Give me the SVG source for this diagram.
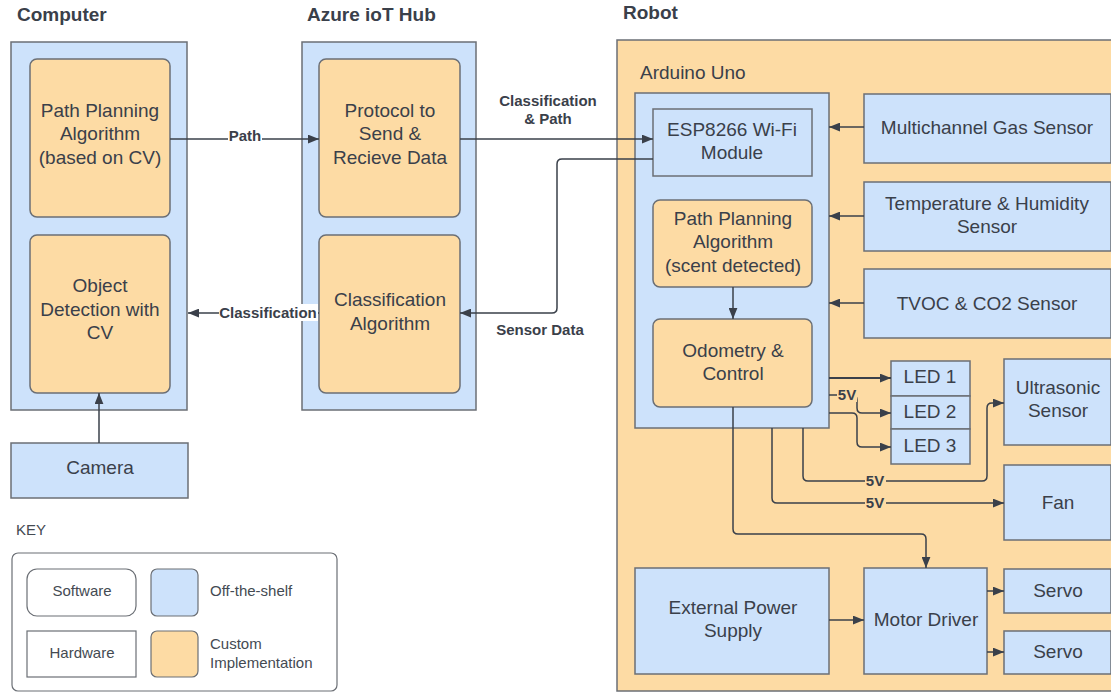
<svg xmlns="http://www.w3.org/2000/svg" width="1111" height="692" viewBox="0 0 1111 692">
<style>
.b{fill:#cde2fb;stroke:#6b6f75;stroke-width:1.5}
.o{fill:#fddba4;stroke:#6b6f75;stroke-width:1.5}
.w{fill:#ffffff;stroke:#6b6f75;stroke-width:1.2}
.t{font-family:"Liberation Sans",Arial,sans-serif;font-size:19px;fill:#3a404a;text-anchor:middle}
.h{font-family:"Liberation Sans",Arial,sans-serif;font-size:19px;font-weight:bold;fill:#3a404a}
.l{font-family:"Liberation Sans",Arial,sans-serif;font-size:15px;font-weight:bold;fill:#3a404a;text-anchor:middle}
.k{font-family:"Liberation Sans",Arial,sans-serif;font-size:15px;fill:#444a52}
.c{fill:none;stroke:#3a404a;stroke-width:1.5;marker-end:url(#ah)}
</style>
<defs>
<marker id="ah" viewBox="0 0 10 8" refX="10" refY="4" markerWidth="11" markerHeight="9" orient="auto" markerUnits="userSpaceOnUse">
<path d="M0,0 L10,4 L0,8 z" fill="#3a404a"/>
</marker>
</defs>
<rect width="1111" height="692" fill="#ffffff"/>
<text class="h" x="17" y="21">Computer</text>
<text class="h" x="307" y="21">Azure ioT Hub</text>
<text class="h" x="623" y="19">Robot</text>

<g id="computer">
<rect class="b" x="11" y="42" width="176" height="368"/>
</g>
<g id="path-planning-cv">
<rect class="o" x="30" y="59" width="140" height="158" rx="7"/>
<text class="t" x="100" y="117">Path Planning</text>
<text class="t" x="100" y="140">Algorithm</text>
<text class="t" x="100" y="164">(based on CV)</text>
</g>
<g id="object-detection">
<rect class="o" x="30" y="235" width="140" height="158" rx="7"/>
<text class="t" x="100" y="292">Object</text>
<text class="t" x="100" y="316">Detection with</text>
<text class="t" x="100" y="339">CV</text>
</g>
<g id="camera">
<rect class="b" x="11" y="443" width="177" height="55"/>
<text class="t" x="100" y="474">Camera</text>
</g>

<g id="azure">
<rect class="b" x="302" y="42" width="174" height="368"/>
</g>
<g id="protocol">
<rect class="o" x="319" y="59" width="141" height="158" rx="7"/>
<text class="t" x="390" y="117">Protocol to</text>
<text class="t" x="390" y="140">Send &amp;</text>
<text class="t" x="390" y="164">Recieve Data</text>
</g>
<g id="classification-algo">
<rect class="o" x="319" y="235" width="141" height="158" rx="7"/>
<text class="t" x="390" y="306">Classification</text>
<text class="t" x="390" y="330">Algorithm</text>
</g>

<g id="robot">
<rect class="o" x="617" y="40" width="500" height="651" rx="0"/>
<text class="t" x="640" y="79" style="text-anchor:start">Arduino Uno</text>
</g>
<g id="arduino">
<rect class="b" x="635" y="93" width="194" height="335"/>
</g>
<g id="esp8266">
<rect class="b" x="653" y="109" width="159" height="67"/>
<text class="t" x="732" y="136">ESP8266 Wi-Fi</text>
<text class="t" x="732" y="159">Module</text>
</g>
<g id="path-planning-scent">
<rect class="o" x="653" y="200" width="159" height="87" rx="7"/>
<text class="t" x="733" y="225">Path Planning</text>
<text class="t" x="733" y="248">Algorithm</text>
<text class="t" x="733" y="272">(scent detected)</text>
</g>
<g id="odometry">
<rect class="o" x="653" y="319" width="159" height="88" rx="7"/>
<text class="t" x="733" y="357">Odometry &amp;</text>
<text class="t" x="733" y="380">Control</text>
</g>
<g id="gas-sensor">
<rect class="b" x="864" y="94" width="247" height="69"/>
<text class="t" x="987" y="134">Multichannel Gas Sensor</text>
</g>
<g id="temp-sensor">
<rect class="b" x="864" y="182" width="247" height="69"/>
<text class="t" x="987" y="210">Temperature &amp; Humidity</text>
<text class="t" x="987" y="233">Sensor</text>
</g>
<g id="tvoc-sensor">
<rect class="b" x="864" y="269" width="247" height="69"/>
<text class="t" x="987" y="310">TVOC &amp; CO2 Sensor</text>
</g>
<g id="led1">
<rect class="b" x="891" y="361" width="79" height="35"/>
<text class="t" x="930" y="383">LED 1</text>
</g>
<g id="led2">
<rect class="b" x="891" y="396" width="79" height="33"/>
<text class="t" x="930" y="418">LED 2</text>
</g>
<g id="led3">
<rect class="b" x="891" y="429" width="79" height="35"/>
<text class="t" x="930" y="452">LED 3</text>
</g>
<g id="ultrasonic">
<rect class="b" x="1004" y="359" width="107" height="86"/>
<text class="t" x="1058" y="394">Ultrasonic</text>
<text class="t" x="1058" y="417">Sensor</text>
</g>
<g id="fan">
<rect class="b" x="1004" y="465" width="107" height="75"/>
<text class="t" x="1058" y="509">Fan</text>
</g>
<g id="power-supply">
<rect class="b" x="635" y="568" width="194" height="106"/>
<text class="t" x="733" y="614">External Power</text>
<text class="t" x="733" y="637">Supply</text>
</g>
<g id="motor-driver">
<rect class="b" x="864" y="568" width="123" height="106"/>
<text class="t" x="926" y="626">Motor Driver</text>
</g>
<g id="servo1">
<rect class="b" x="1004" y="569" width="107" height="44"/>
<text class="t" x="1058" y="597">Servo</text>
</g>
<g id="servo2">
<rect class="b" x="1004" y="631" width="107" height="43"/>
<text class="t" x="1058" y="658">Servo</text>
</g>

<g id="connectors">
<path class="c" d="M170,139 H319"/>
<path class="c" d="M460,139 H653"/>
<path class="c" d="M653,159 H562 Q557,159 557,164 V308 Q557,313 552,313 H460"/>
<path class="c" d="M319,313 H188"/>
<path class="c" d="M99,443 V393"/>
<path class="c" d="M733,287 V319"/>
<path class="c" d="M864,127 H829"/>
<path class="c" d="M864,216 H829"/>
<path class="c" d="M864,303 H829"/>
<path class="c" d="M829,378 H891" style="stroke-width:2"/>
<path class="c" d="M829,395 H852 Q857,395 857,400 V408 Q857,413 862,413 H891"/>
<path class="c" d="M829,413 H852 Q857,413 857,418 V442 Q857,447 862,447 H891"/>
<path class="c" d="M803,428 V476 Q803,481 808,481 H982 Q987,481 987,476 V408 Q987,403 992,403 H1004"/>
<path class="c" d="M772,428 V498 Q772,503 777,503 H1004"/>
<path class="c" d="M733,407 V529 Q733,534 738,534 H921 Q926,534 926,539 V568"/>
<path class="c" d="M829,620 H864"/>
<path class="c" d="M987,591 H1004"/>
<path class="c" d="M987,652 H1004"/>
<rect x="228" y="129" width="34" height="16" fill="#ffffff"/>
<text class="l" x="245" y="141">Path</text>
<rect x="219" y="304" width="99" height="17" fill="#ffffff"/>
<text class="l" x="268" y="318">Classification</text>
<text class="l" x="548" y="106">Classification</text>
<text class="l" x="548" y="124">&amp; Path</text>
<text class="l" x="540" y="335">Sensor Data</text>
<rect x="837" y="388" width="20" height="14" fill="#fddba4"/>
<text class="l" x="847" y="400">5V</text>
<rect x="865" y="474" width="21" height="14" fill="#fddba4"/>
<text class="l" x="875" y="486">5V</text>
<rect x="865" y="496" width="21" height="14" fill="#fddba4"/>
<text class="l" x="875" y="508">5V</text>
</g>

<g id="key">
<text class="k" x="16" y="535">KEY</text>
<rect x="12" y="553" width="325" height="138" rx="6" fill="#ffffff" stroke="#6b6f75" stroke-width="1.2"/>
<rect class="w" x="27" y="569" width="109" height="47" rx="10"/>
<text class="k" x="82" y="596" style="text-anchor:middle">Software</text>
<rect class="w" x="27" y="631" width="109" height="46"/>
<text class="k" x="82" y="658" style="text-anchor:middle">Hardware</text>
<rect class="b" x="151" y="569" width="47" height="47" rx="6" style="stroke-width:1.2"/>
<rect class="o" x="151" y="631" width="47" height="46" rx="6" style="stroke-width:1.2"/>
<text class="k" x="210" y="596">Off-the-shelf</text>
<text class="k" x="210" y="649">Custom</text>
<text class="k" x="210" y="668">Implementation</text>
</g>
</svg>
